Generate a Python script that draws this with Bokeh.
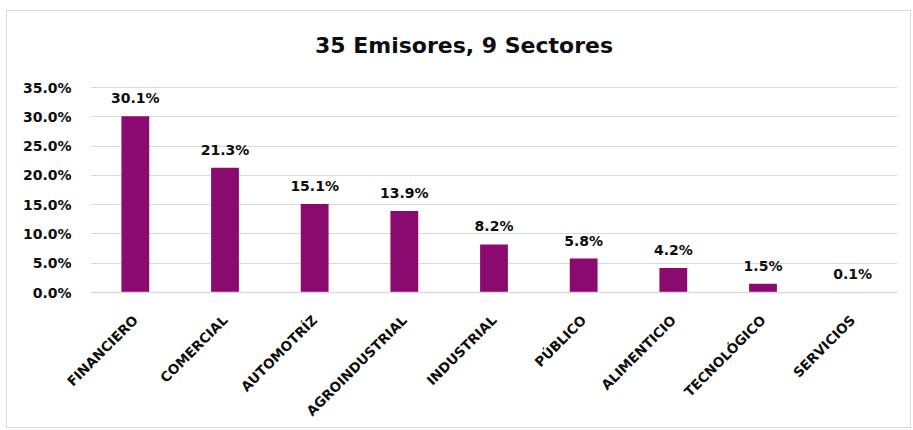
from bokeh.plotting import figure
from bokeh.models import ColumnDataSource, LabelSet, NumeralTickFormatter, FactorRange, Range1d
from bokeh.core.properties import value
from bokeh.embed import file_html
from bokeh.resources import INLINE
import math

sectors = ["FINANCIERO", "COMERCIAL", "AUTOMOTRÍZ", "AGROINDUSTRIAL", "INDUSTRIAL",
           "PÚBLICO", "ALIMENTICIO", "TECNOLÓGICO", "SERVICIOS"]
shares = [0.301, 0.213, 0.151, 0.139, 0.082, 0.058, 0.042, 0.015, 0.001]
labels = ["30.1%", "21.3%", "15.1%", "13.9%", "8.2%", "5.8%", "4.2%", "1.5%", "0.1%"]
y_ticks = [0, 0.05, 0.10, 0.15, 0.20, 0.25, 0.30, 0.35]
title_text = "35 Emisores, 9 Sectores"

FONT = "DejaVu Sans"
BAR = "#8B0A6F"
GRID = "#d9d9d9"

# layout: 35% gridline 205 px above the 0% line; title 42 px above the 35% line
px_per_unit = 205 / 0.35
frame_h = 261
y_end = frame_h / px_per_unit
title_y = 0.35 + 42 / px_per_unit

src = ColumnDataSource(dict(x=sectors, y=shares, t=labels))

p = figure(width=905, height=418, x_range=FactorRange(*sectors, range_padding=0),
           y_range=Range1d(0, y_end), output_backend="svg", toolbar_location=None,
           min_border_left=83, min_border_right=15,
           min_border_bottom=137, min_border_top=20)
p.styles = {"border": "1px solid #d9d9d9", "margin-left": "6px", "margin-top": "10px"}

p.vbar(x="x", top="y", width=0.31, source=src, fill_color=BAR, line_color=None)

p.add_layout(LabelSet(x="x", y="y", text="t", source=src, y_offset=10,
                      text_align="center", text_baseline="bottom",
                      text_font=value(FONT), text_font_size="14px", text_font_style="bold",
                      text_color="#0d0d0d"))

p.text(x=["INDUSTRIAL"], y=[title_y], text=[title_text], x_offset=-30,
       text_align="center", text_baseline="middle",
       text_font=value(FONT), text_font_size="22px", text_font_style="bold",
       text_color="#0d0d0d")

p.outline_line_color = None
p.xgrid.grid_line_color = None
p.ygrid.grid_line_color = GRID
p.ygrid.grid_line_width = 1
p.ygrid.ticker = y_ticks

p.yaxis.ticker = y_ticks
p.yaxis.formatter = NumeralTickFormatter(format="0.0%")
p.yaxis.axis_line_color = None
p.yaxis.major_tick_line_color = None
p.yaxis.minor_tick_line_color = None
p.yaxis.major_label_text_font = FONT
p.yaxis.major_label_text_font_size = "14px"
p.yaxis.major_label_text_font_style = "bold"
p.yaxis.major_label_text_color = "#0d0d0d"
p.yaxis.major_label_standoff = 13

p.xaxis.axis_line_color = GRID
p.xaxis.axis_line_width = 1.5
p.xaxis.major_tick_line_color = None
p.xaxis.minor_tick_line_color = None
p.xaxis.major_label_orientation = math.pi / 4
p.xaxis.major_label_text_font = FONT
p.xaxis.major_label_text_font_size = "13.5px"
p.xaxis.major_label_text_font_style = "bold"
p.xaxis.major_label_text_color = "#0d0d0d"
p.xaxis.major_label_standoff = 19

open("out.html", "w").write(file_html(p, INLINE))
